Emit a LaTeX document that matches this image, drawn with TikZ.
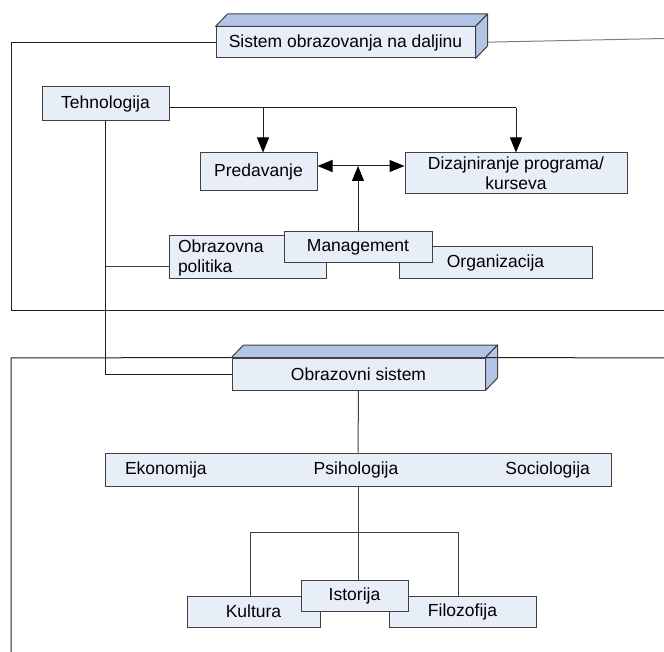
\documentclass[tikz,border=0pt]{standalone}
\usepackage{fontspec}
\setmainfont{Liberation Sans}
\usetikzlibrary{calc,arrows.meta}
\definecolor{boxfill}{HTML}{E8EEF8}
\definecolor{boxedge}{HTML}{404040}
\definecolor{facefill}{HTML}{B2C5E6}
\definecolor{wire}{HTML}{404040}
\definecolor{framecol}{HTML}{202020}
\pgfdeclarelayer{bg}
\pgfsetlayers{bg,main}
% top and right faces of a slab drawn beside the front face of node #1
\newcommand\slabfaces[1]{%
  \filldraw[face] (#1.north west) -- ++(12,-12.5) -- ($(#1.north east)+(12,-12.5)$) -- (#1.north east) -- cycle;
  \filldraw[face] (#1.north east) -- ++(12,-12.5) -- ($(#1.south east)+(12,-12.5)$) -- (#1.south east) -- cycle;}
\begin{document}
\begin{tikzpicture}[x=1pt,y=-1pt,
  every node/.style={font=\fontsize{17.5}{20}\selectfont},
  box/.style={draw=boxedge,line width=1pt,fill=boxfill,inner sep=0pt},
  sz/.style 2 args={minimum width=#1pt,minimum height=#2pt},
  face/.style={draw=boxedge,line width=1pt,fill=facefill,line join=round},
  wireline/.style={draw=wire,line width=1pt},
  frameline/.style={draw=framecol,line width=1pt},
  tipend/.tip={Triangle[length=15pt,width=12pt,color=black]},
  arr/.style={draw=framecol,line width=1pt,-tipend},
  arrs/.style={draw=framecol,line width=1pt,tipend-tipend}]
\useasboundingbox (0,0) rectangle (664,652);

% upper block
\node[box,sz={259}{31}] (sist) at (345.5,42.5) {Sistem obrazovanja na daljinu};
\slabfaces{sist}
\node[box,sz={127}{34}] (teh) at (105.5,104) {Tehnologija};
\node[box,sz={117}{38}] (pred) at (258.5,172) {Predavanje};
\node[box,sz={222}{41},align=center] (diz) at (516,173.5) {Dizajniranje programa/\\kurseva};
\node[box,sz={157}{43},align=left,text width=139pt,inner xsep=9pt] (obr) at (247.5,257.5) {Obrazovna\\politika};
\node[box,sz={193}{32}] (org) at (495.5,263) {Organizacija};
\node[box,sz={148}{31}] (man) at (358,247.5) {Management};

% lower block
\node[box,sz={253}{32}] (osys) at (358.5,374) {Obrazovni sistem};
\slabfaces{osys}
\node[box,sz={506}{33}] (bar) at (358,469.5)
  {\makebox[506pt]{\hspace{20pt}Ekonomija\hfill Psihologija\hfill Sociologija\hspace{21pt}}};
\node[box,sz={133}{31}] (kul) at (253.5,611.5) {Kultura};
\node[box,sz={147}{31}] (fil) at (462.5,611.5) {Filozofija};
\node[box,sz={107}{31}] (ist) at (354.5,595.5) {Istorija};

% frame corners and junctions
\coordinate (f1) at (11,311);
\coordinate (f1r) at (664,311);
\coordinate (fr) at (664,38.5);
\coordinate (f2) at (11,358);
\coordinate (f2b) at (11,652);
\coordinate (f2r) at (664,358);
\coordinate (jp) at (263,108);
\coordinate (jd) at (516,108);
\coordinate (row) at (0,166);
\coordinate (br) at (105,267);
\coordinate (kl) at (250,532);
\coordinate (fl) at (458,532);

\begin{pgfonlayer}{bg}
  % frames
  \draw[frameline] (sist.west) -| (f1) -- (f1r);
  \draw[draw=gray,line width=1pt] ([xshift=-4pt]sist.east) -- (fr);
  \draw[frameline] (osys.north west) -- (f2) -- (f2b);
  % Tehnologija links
  \draw[frameline] ([yshift=-4pt]teh.east) -- (jd);
  \draw[arr] (jp) -- (jp |- pred.north);
  \draw[arr] (jd) -- (diz.north);
  \draw[arrs] (pred.east |- row) -- (diz.west |- row);
  \draw[arr] (man.north) -- (man.north |- row);
  \draw[frameline] (teh.south) -- (teh.south |- osys.west) -- (osys.west);
  \draw[wireline] (teh.south |- br) -- (obr.west |- br);
  % lower tree
  \draw[wireline] (osys.south) -- (bar.north);
  \draw[wireline] (bar.south) -- (bar.south |- ist.north);
  \draw[wireline] (kl |- kul.north) -- (kl) -- (fl) -- (fl |- fil.north);
\end{pgfonlayer}
\draw[frameline] (osys.north east) -- (f2r);
\end{tikzpicture}
\end{document}
